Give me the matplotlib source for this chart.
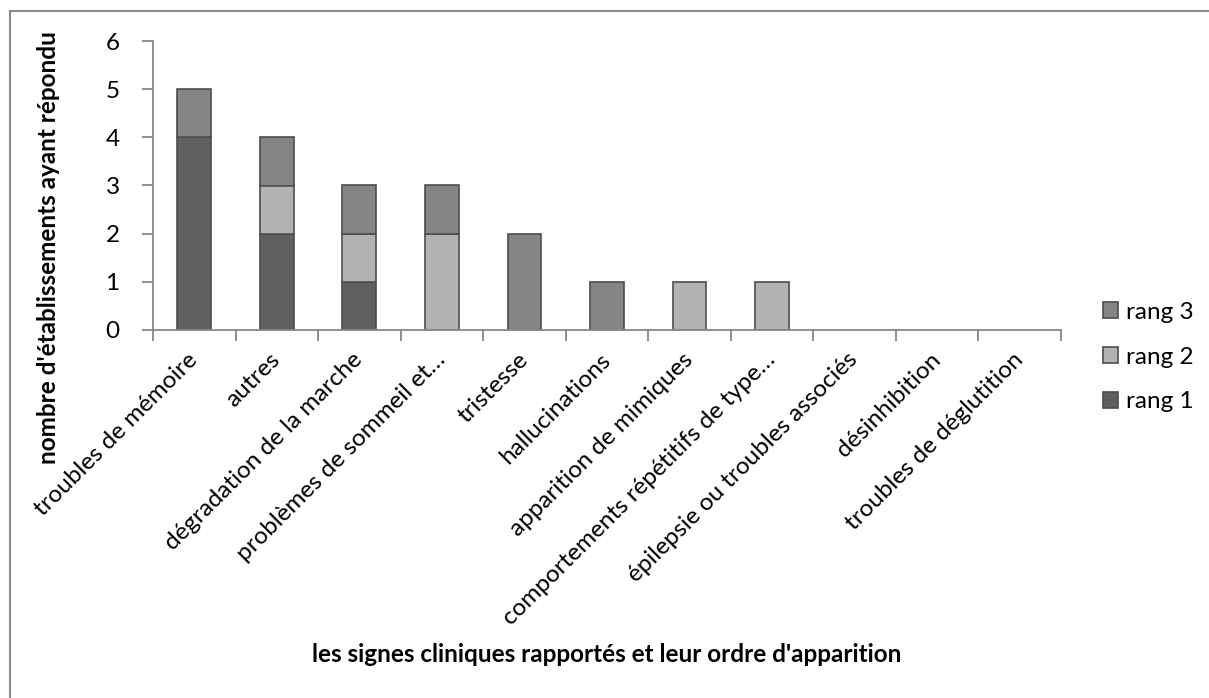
import numpy as np
import matplotlib.pyplot as plt
from matplotlib.lines import Line2D

plt.rcParams['font.family'] = ['Lato', 'DejaVu Sans']

categories = ['troubles de mémoire', 'autres', 'dégradation de la marche',
              'problèmes de sommeil et…', 'tristesse', 'hallucinations',
              'apparition de mimiques', 'comportements répétitifs de type…',
              'épilepsie ou troubles associés', 'désinhibition',
              'troubles de déglutition']
rang1 = [4, 2, 1, 0, 0, 0, 0, 0, 0, 0, 0]
rang2 = [0, 1, 1, 2, 0, 0, 1, 1, 0, 0, 0]
rang3 = [1, 1, 1, 1, 2, 1, 0, 0, 0, 0, 0]
yticks = [0, 1, 2, 3, 4, 5, 6]

W, H = 1209, 698
fs = 17.5
fig = plt.figure(figsize=(W / 100, H / 100), dpi=100)
# plot area in pixels: x 153..1061, y 41..330 (from top)
ax = fig.add_axes([153 / W, 1 - 330 / H, (1061 - 153) / W, (330 - 41) / H])

x = np.arange(len(categories))
r1 = np.array(rang1)
r2 = np.array(rang2)
r3 = np.array(rang3)
edge = '#4d4d4d'
w = 0.41

# only non-zero segments, so empty categories stay blank
def seg(vals, bottom, color, label):
    m = vals > 0
    ax.bar(x[m], vals[m], w, bottom=bottom[m], color=color, edgecolor=edge,
           linewidth=1.2, label=label)

seg(r1, np.zeros(len(x)), '#606060', 'rang 1')
seg(r2, r1, '#b3b3b3', 'rang 2')
seg(r3, r1 + r2, '#858585', 'rang 3')

ax.set_xlim(-0.5, len(categories) - 0.5)
ax.set_ylim(0, 6)
ax.set_yticks(yticks)

axis_col = '#878787'
for s in ['top', 'right']:
    ax.spines[s].set_visible(False)
for s in ['left', 'bottom']:
    ax.spines[s].set_color(axis_col)
    ax.spines[s].set_linewidth(1.3)

ax.set_xticks(x)
ax.set_xticklabels(categories, rotation=45, ha='right', va='center',
                   rotation_mode='anchor', fontsize=fs)
ax.set_xticks(np.arange(-0.5, len(categories), 1), minor=True)
ax.tick_params(axis='x', which='major', length=0, pad=19)
ax.tick_params(axis='x', which='minor', length=8, width=1.3, color=axis_col)
ax.tick_params(axis='y', length=8, width=1.3, color=axis_col, labelsize=fs, pad=16)

ax.set_ylabel("nombre d'établissements ayant répondu", fontsize=fs,
              fontweight='bold')
ax.yaxis.set_label_coords((60 - 153) / 908, (330 - 248) / 289)
ax.set_xlabel("les signes cliniques rapportés et leur ordre d'apparition",
              fontsize=fs, fontweight='bold')
ax.xaxis.set_label_coords(0.5, -(643 - 330) / 289)

handles, labels = ax.get_legend_handles_labels()
ax.legend(handles[::-1], labels[::-1], loc='center left',
          bbox_to_anchor=(1103 / W, 1 - 357 / H), bbox_transform=fig.transFigure,
          frameon=False, fontsize=fs, handlelength=0.62, handleheight=0.62,
          labelspacing=0.98, handletextpad=0.33, borderpad=0, borderaxespad=0)

# outer chart border (top and left visible)
fig.add_artist(Line2D([10 / W, 10 / W], [0, 1 - 11 / H], color='#8a8a8a',
                      lw=1.5, transform=fig.transFigure))
fig.add_artist(Line2D([10 / W, 1], [1 - 11 / H, 1 - 11 / H], color='#8a8a8a',
                      lw=1.5, transform=fig.transFigure))

plt.savefig('out.png', dpi=100)
